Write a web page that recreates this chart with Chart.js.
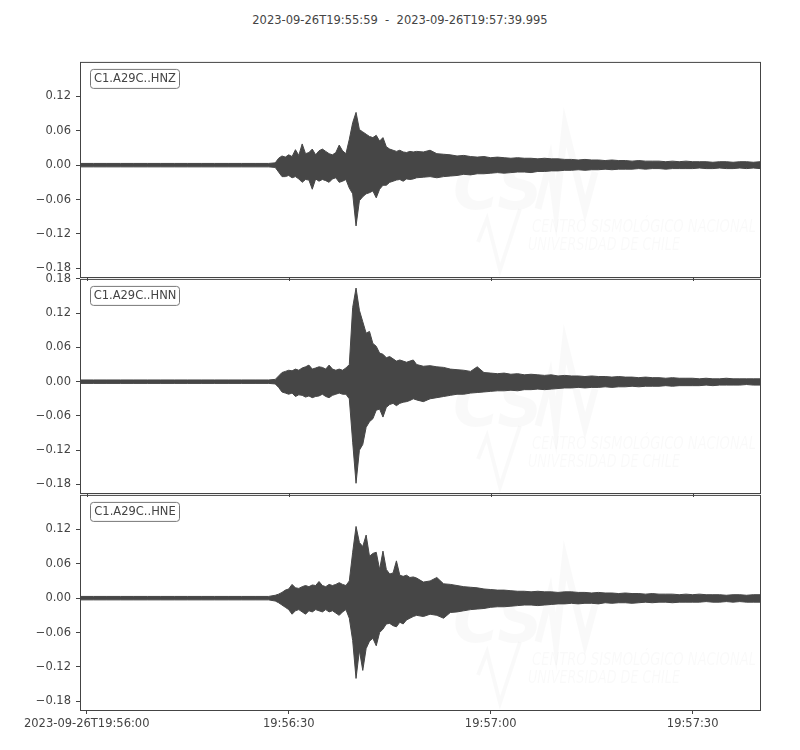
<!DOCTYPE html>
<html>
<head>
<meta charset="utf-8">
<script src="https://cdn.jsdelivr.net/npm/chart.js@4.4.1/dist/chart.umd.min.js"></script>
<style>
  body { margin: 0; background: #fff; }
  #wrap { position: relative; width: 800px; height: 750px; }
  #title { position: absolute; top: 13px; left: 0; width: 800px; text-align: center;
           font: 11.5px "DejaVu Sans", sans-serif; color: #444; white-space: pre; }
  canvas { position: absolute; left: 0; }
</style>
</head>
<body>
<div id="wrap">
  <div id="title">2023-09-26T19:55:59  -  2023-09-26T19:57:39.995</div>
  <canvas id="c1" width="800" height="240" style="top:50px"></canvas>
  <canvas id="c2" width="800" height="239" style="top:267px"></canvas>
  <canvas id="c3" width="800" height="267" style="top:483px"></canvas>
</div>
<script>
// seconds after 2023-09-26T19:55:59
const times = [0,2,4,6,8,10,12,14,16,18,20,22,24,26,28,
  29,29.5,30,30.5,31,31.5,32,32.5,33,33.5,34,34.5,35,35.5,36,36.5,37,37.5,38,38.5,
  39,39.5,40,40.5,41,41.5,42,42.5,43,43.5,44,44.5,45,45.5,46,46.5,47,47.5,48,48.5,49,49.5,50,
  51,52,53,54,55,56,57,58,59,60,61,62,63,64,65,66,67,68,69,70,
  71,72,73,74,75,76,77,78,79,80,81,82,83,84,85,86,87,88,89,90,
  91,92,93,94,95,96,97,98,99,100,101];

// envelope of each trace (max / min per time step)
const hnzTop = [0.003,0.003,0.003,0.003,0.003,0.003,0.003,0.003,0.003,0.003,0.003,0.003,0.003,0.003,0.003,
  0.004,0.012,0.016,0.014,0.018,0.015,0.027,0.017,0.037,0.020,
  0.022,0.028,0.018,0.025,0.028,0.024,0.020,0.018,0.022,0.035,
  0.025,0.020,0.045,0.074,0.092,0.062,0.058,0.054,0.050,0.048,
  0.052,0.042,0.048,0.032,0.028,0.026,0.024,0.026,0.023,0.022,
  0.024,0.023,0.024,
  0.023,0.026,0.020,0.019,0.018,0.016,0.017,0.015,0.014,0.015,
  0.013,0.014,0.013,0.012,0.013,0.012,0.012,0.011,0.012,0.011,
  0.011,0.010,0.010,0.009,0.010,0.009,0.009,0.008,0.009,0.008,
  0.008,0.007,0.008,0.007,0.007,0.007,0.006,0.007,0.006,0.007,
  0.006,0.006,0.006,0.005,0.006,0.006,0.005,0.006,0.006,0.005,0.006];
const hnzBot = [-0.003,-0.003,-0.003,-0.003,-0.003,-0.003,-0.003,-0.003,-0.003,-0.003,-0.003,-0.003,-0.003,-0.003,-0.003,
  -0.004,-0.012,-0.020,-0.020,-0.018,-0.022,-0.020,-0.024,-0.030,-0.025,
  -0.026,-0.042,-0.024,-0.028,-0.025,-0.027,-0.030,-0.024,-0.022,-0.030,
  -0.028,-0.025,-0.040,-0.050,-0.106,-0.062,-0.055,-0.050,-0.048,-0.045,
  -0.057,-0.042,-0.035,-0.035,-0.030,-0.028,-0.026,-0.025,-0.028,-0.024,
  -0.025,-0.024,-0.022,
  -0.021,-0.020,-0.022,-0.020,-0.019,-0.018,-0.016,-0.017,-0.015,-0.015,
  -0.014,-0.013,-0.014,-0.013,-0.012,-0.012,-0.013,-0.011,-0.011,-0.010,
  -0.010,-0.009,-0.009,-0.008,-0.009,-0.008,-0.008,-0.007,-0.008,-0.007,
  -0.007,-0.007,-0.006,-0.007,-0.006,-0.006,-0.007,-0.006,-0.006,-0.006,
  -0.006,-0.005,-0.006,-0.006,-0.005,-0.006,-0.006,-0.005,-0.006,-0.005,-0.006];

const hnnTop = [0.003,0.003,0.003,0.003,0.003,0.003,0.003,0.003,0.003,0.003,0.003,0.003,0.003,0.003,0.003,
  0.004,0.010,0.016,0.018,0.020,0.019,0.022,0.020,0.024,0.026,
  0.029,0.022,0.024,0.026,0.025,0.022,0.029,0.022,0.020,0.022,
  0.020,0.024,0.030,0.130,0.164,0.125,0.105,0.085,0.088,0.067,
  0.062,0.050,0.048,0.042,0.044,0.040,0.036,0.038,0.036,0.034,
  0.036,0.038,0.030,
  0.027,0.028,0.026,0.025,0.022,0.021,0.020,0.018,0.026,0.016,
  0.015,0.014,0.015,0.013,0.014,0.012,0.013,0.012,0.011,0.012,
  0.010,0.011,0.010,0.010,0.009,0.010,0.009,0.009,0.008,0.009,
  0.008,0.008,0.007,0.008,0.007,0.007,0.006,0.007,0.006,0.006,
  0.006,0.005,0.006,0.005,0.005,0.006,0.005,0.005,0.005,0.005,0.005];
const hnnBot = [-0.003,-0.003,-0.003,-0.003,-0.003,-0.003,-0.003,-0.003,-0.003,-0.003,-0.003,-0.003,-0.003,-0.003,-0.003,
  -0.004,-0.010,-0.018,-0.020,-0.022,-0.020,-0.026,-0.023,-0.024,-0.027,
  -0.025,-0.028,-0.026,-0.025,-0.022,-0.026,-0.028,-0.024,-0.022,-0.020,
  -0.022,-0.022,-0.030,-0.106,-0.178,-0.120,-0.110,-0.080,-0.070,-0.065,
  -0.050,-0.048,-0.062,-0.045,-0.040,-0.038,-0.042,-0.038,-0.036,-0.035,
  -0.033,-0.030,-0.032,
  -0.035,-0.030,-0.028,-0.026,-0.024,-0.022,-0.022,-0.020,-0.019,-0.018,
  -0.017,-0.016,-0.016,-0.015,-0.016,-0.014,-0.014,-0.013,-0.014,-0.013,
  -0.012,-0.011,-0.011,-0.010,-0.011,-0.010,-0.010,-0.009,-0.010,-0.009,
  -0.009,-0.008,-0.009,-0.008,-0.008,-0.008,-0.007,-0.008,-0.007,-0.007,
  -0.007,-0.007,-0.006,-0.007,-0.006,-0.006,-0.006,-0.006,-0.005,-0.006,-0.006];

const hneTop = [0.003,0.003,0.003,0.003,0.003,0.003,0.003,0.003,0.003,0.003,0.003,0.003,0.003,0.003,0.003,
  0.005,0.007,0.010,0.014,0.016,0.024,0.018,0.017,0.020,0.022,
  0.020,0.023,0.022,0.029,0.022,0.020,0.024,0.022,0.024,0.027,
  0.024,0.022,0.030,0.080,0.125,0.097,0.090,0.110,0.073,0.078,
  0.080,0.050,0.082,0.050,0.042,0.044,0.065,0.040,0.038,0.040,
  0.036,0.037,0.035,
  0.028,0.030,0.036,0.025,0.024,0.022,0.020,0.019,0.018,0.016,
  0.015,0.014,0.014,0.013,0.012,0.012,0.011,0.012,0.011,0.011,
  0.010,0.011,0.011,0.010,0.010,0.009,0.010,0.009,0.009,0.008,
  0.009,0.008,0.008,0.007,0.008,0.007,0.007,0.007,0.006,0.007,
  0.006,0.007,0.006,0.006,0.006,0.005,0.006,0.006,0.005,0.006,0.006];
const hneBot = [-0.003,-0.003,-0.003,-0.003,-0.003,-0.003,-0.003,-0.003,-0.003,-0.003,-0.003,-0.003,-0.003,-0.003,-0.003,
  -0.005,-0.008,-0.012,-0.016,-0.020,-0.028,-0.022,-0.020,-0.024,-0.028,
  -0.022,-0.024,-0.020,-0.022,-0.024,-0.020,-0.024,-0.022,-0.026,-0.030,
  -0.024,-0.020,-0.035,-0.074,-0.140,-0.091,-0.126,-0.088,-0.075,-0.070,
  -0.083,-0.060,-0.054,-0.045,-0.044,-0.048,-0.050,-0.042,-0.045,-0.038,
  -0.035,-0.032,-0.030,
  -0.032,-0.028,-0.030,-0.035,-0.025,-0.024,-0.022,-0.020,-0.019,-0.018,
  -0.016,-0.015,-0.015,-0.014,-0.013,-0.012,-0.012,-0.013,-0.012,-0.011,
  -0.010,-0.010,-0.009,-0.010,-0.009,-0.009,-0.010,-0.008,-0.009,-0.008,
  -0.008,-0.009,-0.008,-0.007,-0.008,-0.007,-0.007,-0.008,-0.007,-0.007,
  -0.007,-0.007,-0.006,-0.007,-0.007,-0.006,-0.007,-0.006,-0.007,-0.007,-0.007];

const xTicks = [1, 31, 61, 91];
const xLabels = ['2023-09-26T19:56:00', '19:56:30', '19:57:00', '19:57:30'];
const yTicksFull = [0.18, 0.12, 0.06, 0, -0.06, -0.12, -0.18];
const yTicksCut = [0.12, 0.06, 0, -0.06, -0.12, -0.18];

const traceColor = '#464646';
const textColor = '#444';
const tickFont = { family: 'DejaVu Sans', size: 11.5 };

function pts(vals) {
  return vals.map((v, i) => ({ x: times[i], y: v }));
}

function fmtY(v) {
  return v.toFixed(2).replace('-', '\u2212');
}

// frame, station label, watermark
const panelPlugin = {
  id: 'panel',
  beforeDatasetsDraw(chart, args, opts) {
    const ctx = chart.ctx;
    const a = chart.chartArea;
    const L = a.left, T = a.top;
    ctx.save();
    ctx.fillStyle = 'rgba(0,0,0,0.025)';
    ctx.strokeStyle = 'rgba(0,0,0,0.025)';
    ctx.font = 'italic bold 66px "Liberation Sans Narrow", "DejaVu Sans", sans-serif';
    ctx.textBaseline = 'alphabetic';
    ctx.fillText('CS', L + 373, T + 147, 90);
    ctx.lineWidth = 7;
    ctx.lineJoin = 'miter';
    ctx.beginPath();
    ctx.moveTo(L + 458, T + 147);
    ctx.lineTo(L + 470, T + 100);
    ctx.lineTo(L + 476, T + 147);
    ctx.lineTo(L + 485, T + 65);
    ctx.lineTo(L + 505, T + 147);
    ctx.lineTo(L + 515, T + 110);
    ctx.stroke();
    ctx.lineWidth = 4;
    ctx.beginPath();
    ctx.moveTo(L + 398, T + 180);
    ctx.lineTo(L + 407, T + 157);
    ctx.lineTo(L + 420, T + 208);
    ctx.lineTo(L + 440, T + 147);
    ctx.stroke();
    ctx.font = 'italic 18px "Liberation Sans Narrow", "DejaVu Sans", sans-serif';
    ctx.fillText('CENTRO SISMOLÓGICO NACIONAL', L + 452, T + 170, 224);
    ctx.fillText('UNIVERSIDAD DE CHILE', L + 448, T + 188, 152);
    ctx.restore();
  },
  afterDraw(chart, args, opts) {
    const ctx = chart.ctx;
    const a = chart.chartArea;
    ctx.save();
    ctx.strokeStyle = '#444';
    ctx.lineWidth = 1;
    ctx.strokeRect(a.left + 0.5, a.top + 0.5, a.right - a.left, a.bottom - a.top);
    if (opts.bottomTicks) {
      const sx = chart.scales.x;
      ctx.beginPath();
      xTicks.forEach(v => {
        const px = Math.round(sx.getPixelForValue(v)) + 0.5;
        ctx.moveTo(px, a.bottom);
        ctx.lineTo(px, a.bottom + 4);
      });
      ctx.stroke();
    }
    // station label box
    const bx = a.left + 10.5, by = a.top + 7.5, bw = 89, bh = 19;
    ctx.beginPath();
    ctx.roundRect(bx, by, bw, bh, 3);
    ctx.fillStyle = '#fff';
    ctx.fill();
    ctx.strokeStyle = '#777';
    ctx.stroke();
    ctx.fillStyle = textColor;
    ctx.font = '11.5px "DejaVu Sans"';
    ctx.textBaseline = 'middle';
    ctx.textAlign = 'center';
    ctx.fillText(opts.label, bx + bw / 2, by + bh / 2 + 0.5);
    ctx.restore();
  }
};

function makePanel(id, label, top, bot, yTicks, showX) {
  const xScale = {
    type: 'linear', min: 0, max: 101, display: showX,
    afterBuildTicks: s => { s.ticks = xTicks.map(v => ({ value: v })); },
    afterFit: s => { s.height = showX ? 40 : 0; },
    ticks: { autoSkip: false, maxRotation: 0, color: textColor, font: tickFont, padding: 3,
             callback: v => xLabels[xTicks.indexOf(v)] },
    grid: { drawOnChartArea: false, drawTicks: true, tickLength: 4, color: '#444' },
    border: { display: false }
  };
  return new Chart(document.getElementById(id), {
    type: 'line',
    data: {
      datasets: [
        { data: pts(top), borderColor: traceColor, backgroundColor: traceColor, borderWidth: 1,
          pointRadius: 0, fill: '+1', tension: 0 },
        { data: pts(bot), borderColor: traceColor, backgroundColor: traceColor, borderWidth: 1,
          pointRadius: 0, fill: false, tension: 0 }
      ]
    },
    options: {
      responsive: false,
      animation: false,
      events: [],
      layout: { padding: { left: 0, right: 40, top: 8, bottom: showX ? 0 : 13 } },
      scales: {
        x: xScale,
        y: {
          min: -0.195, max: 0.18,
          afterFit: s => { s.width = 80; },
          afterBuildTicks: s => { s.ticks = yTicks.map(v => ({ value: v })); },
          ticks: { color: textColor, font: tickFont, padding: 5, callback: v => fmtY(v) },
          grid: { drawOnChartArea: false, drawTicks: true, tickLength: 4, color: '#444' },
          border: { display: false }
        }
      },
      plugins: {
        legend: { display: false },
        tooltip: { enabled: false },
        panel: { label: label, bottomTicks: !showX }
      }
    },
    plugins: [panelPlugin]
  });
}

makePanel('c1', 'C1.A29C..HNZ', hnzTop, hnzBot, yTicksCut, false);
makePanel('c2', 'C1.A29C..HNN', hnnTop, hnnBot, yTicksFull, false);
makePanel('c3', 'C1.A29C..HNE', hneTop, hneBot, yTicksCut, true);
</script>
</body>
</html>
